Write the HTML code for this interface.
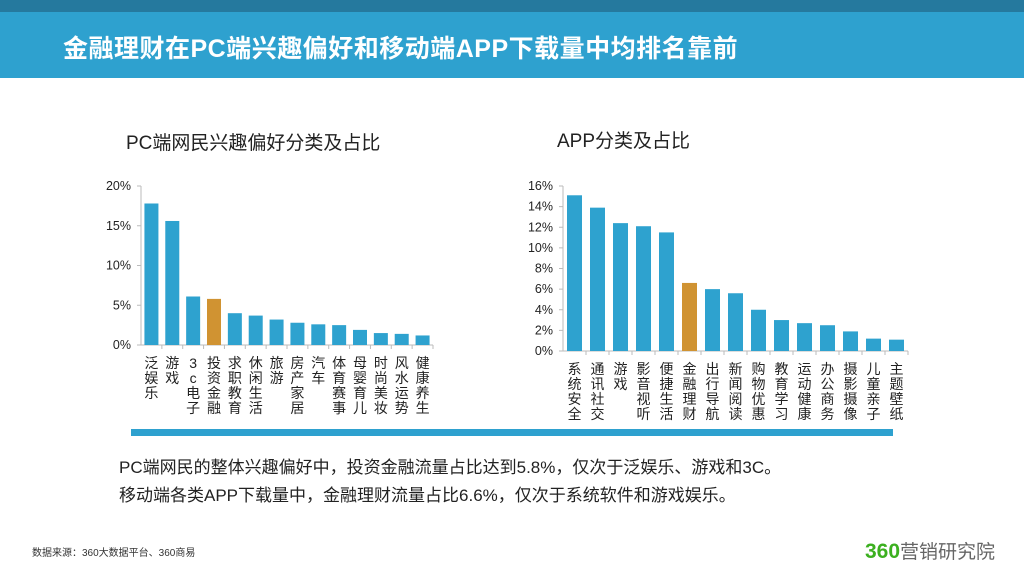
<!DOCTYPE html>
<html><head><meta charset="utf-8"><style>
body{margin:0;width:1024px;height:576px;overflow:hidden;background:#fff;font-family:"Liberation Sans","Noto Sans CJK SC",sans-serif;position:relative}
.abs{position:absolute}
</style></head><body>
<div class="abs" style="left:0;top:0;width:1024px;height:12px;background:#25799e"></div>
<div class="abs" style="left:0;top:12px;width:1024px;height:66px;background:#2ea1cf"></div>
<div class="abs" style="left:63px;top:29px;color:#fff;font-size:25px;font-weight:bold;white-space:nowrap;letter-spacing:0.5px">金融理财在PC端兴趣偏好和移动端APP下载量中均排名靠前</div>
<div class="abs" style="left:126px;top:128px;font-size:19px;color:#222">PC端网民兴趣偏好分类及占比</div>
<div class="abs" style="left:557px;top:126px;font-size:19px;color:#222">APP分类及占比</div>
<svg class="abs" style="left:0;top:0" width="1024" height="576" id="svg"></svg>
<div class="abs" style="left:131px;top:429px;width:762px;height:7px;background:#2ea1cf"></div>
<div class="abs" style="left:119px;top:453px;font-size:17px;color:#222;white-space:nowrap">PC端网民的整体兴趣偏好中，投资金融流量占比达到5.8%，仅次于泛娱乐、游戏和3C。</div>
<div class="abs" style="left:119px;top:481px;font-size:17px;color:#222;white-space:nowrap">移动端各类APP下载量中，金融理财流量占比6.6%，仅次于系统软件和游戏娱乐。</div>
<div class="abs" style="left:32px;top:544px;font-size:10px;color:#333">数据来源：360大数据平台、360商易</div>
<div class="abs" style="left:865px;top:537px;font-size:19px;white-space:nowrap"><span style="color:#3cb020;font-weight:bold;font-size:21px">360</span><span style="color:#666">营销研究院</span></div>
<script>
const pcCats=["泛娱乐","游戏","3c电子","投资金融","求职教育","休闲生活","旅游","房产家居","汽车","体育赛事","母婴育儿","时尚美妆","风水运势","健康养生"];
const pcVals=[17.8,15.6,6.1,5.8,4.0,3.7,3.2,2.8,2.6,2.5,1.9,1.5,1.4,1.2];
const pcTicks=[0,5,10,15,20];
const appCats=["系统安全","通讯社交","游戏","影音视听","便捷生活","金融理财","出行导航","新闻阅读","购物优惠","教育学习","运动健康","办公商务","摄影摄像","儿童亲子","主题壁纸"];
const appVals=[15.1,13.9,12.4,12.1,11.5,6.6,6.0,5.6,4.0,3.0,2.7,2.5,1.9,1.2,1.1];
const appTicks=[0,2,4,6,8,10,12,14,16];
const NS="http://www.w3.org/2000/svg";
const svg=document.getElementById('svg');
function mk(t,a){const e=document.createElementNS(NS,t);for(const k in a)e.setAttribute(k,a[k]);svg.appendChild(e);return e;}
function chart(name,cats,vals,ticks,x0,x1,yb,yt,hl,bw){
  const max=ticks[ticks.length-1];
  const y=v=>yb-(v/max)*(yb-yt);
  const step=(x1-x0)/cats.length;
  let ax=mk('line',{x1:x0,y1:yt,x2:x0,y2:yb,stroke:'#bbb'});
  
  let bx=mk('line',{x1:x0,y1:yb,x2:x1,y2:yb,stroke:'#bbb'});
  
  ticks.forEach(t=>{
    mk('line',{x1:x0-4,y1:y(t),x2:x0,y2:y(t),stroke:'#bbb'});
    const tx=mk('text',{x:x0-10,y:y(t)+4,'text-anchor':'end','font-size':12.5,fill:'#222'});
    tx.textContent=t+'%';
    
  });
  cats.forEach((c,i)=>{
    const cx=x0+step*(i+0.5);
    mk('line',{x1:x0+step*(i+1),y1:yb,x2:x0+step*(i+1),y2:yb+4,stroke:'#bbb'});
    const r=mk('rect',{x:cx-bw/2,y:y(vals[i]),width:bw,height:yb-y(vals[i]),fill:i===hl?'#d09332':'#2ea2cf'});
    
    const chars=[...c];
    chars.forEach((ch,j)=>{
      const t=mk('text',{x:cx,y:yb+23+j*15,'text-anchor':'middle','font-size':14,fill:'#222'});
      t.textContent=ch;
      
    });
  });
}
chart('pc',pcCats,pcVals,pcTicks,141,433,345,186,3,14);
chart('app',appCats,appVals,appTicks,563,908,351,186,5,15);
</script>
</body></html>
